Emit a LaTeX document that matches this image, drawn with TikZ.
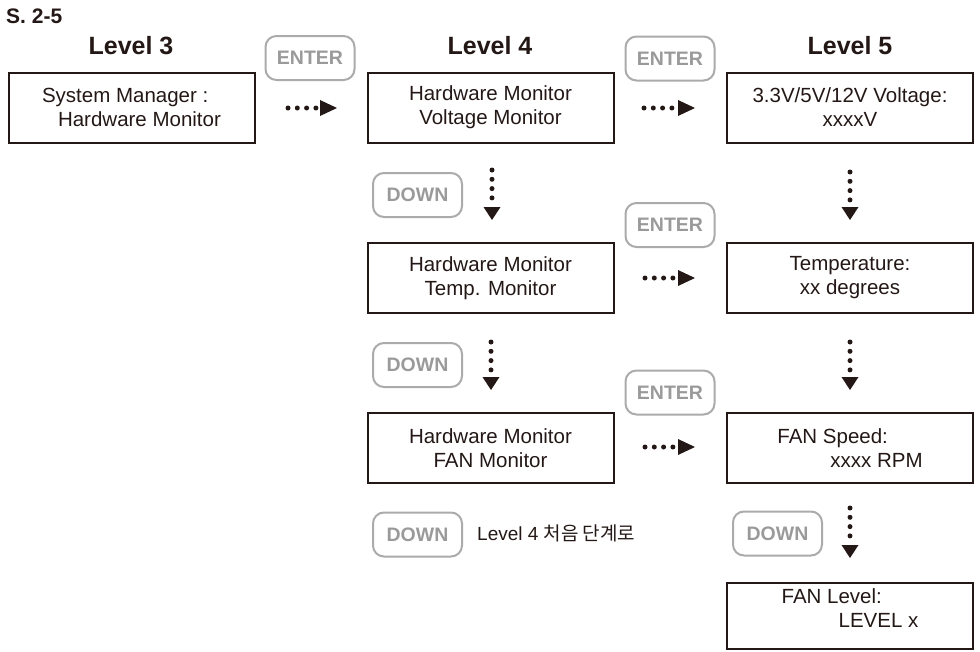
\documentclass[tikz,border=0pt]{standalone}
\usepackage{fontspec}
\setmainfont{Liberation Sans}
\newfontfamily\krfont{Noto Sans CJK KR}
\usetikzlibrary{arrows.meta}
\definecolor{ink}{HTML}{231815}
\definecolor{btnline}{HTML}{ABABAB}
\definecolor{btntext}{HTML}{9A9A9A}
\begin{document}
\begin{tikzpicture}[x=1pt,y=-1pt,
  box/.style={draw=ink, line width=2pt, minimum width=246pt, minimum height=70pt, inner sep=0pt, text=ink, font=\fontsize{20.5}{24}\selectfont, align=center},
  btn/.style={draw=btnline, line width=2pt, rounded corners=11pt, minimum width=89pt, minimum height=44pt, inner sep=0pt, text=btntext, font=\fontsize{19.5}{22}\selectfont\bfseries},
  head/.style={text=ink, font=\fontsize{25}{28}\selectfont\bfseries},
  txt/.style={text=ink, font=\fontsize{20.5}{24}\selectfont, inner sep=0pt},
  hdot/.style={draw=ink, line width=5pt, line cap=round, dash pattern=on 0pt off 9.3pt, -{Triangle[length=17pt,width=16pt,line width=0pt]}},
  vdot/.style={draw=ink, line width=5pt, line cap=round, dash pattern=on 0pt off 9.3pt, -{Triangle[length=13pt,width=17pt,line width=0pt]}}]
\useasboundingbox (0,0) rectangle (980,651);
% titles
\node[anchor=west, text=ink, font=\fontsize{21}{24}\selectfont\bfseries, inner sep=0pt] (title) at (6,16) {S. 2-5};
\node[head] (lv3) at (131,46) {Level 3};
\node[head] (lv4) at (490,46) {Level 4};
\node[head] (lv5) at (850,46) {Level 5};
% boxes
\node[box, align=left] (b3) at (131.5,107.5) {System Manager :\\\hspace*{16pt}Hardware Monitor};
\node[box] (b41) at (490.5,107.5) {Hardware Monitor\\Voltage Monitor};
\node[box] (b51) at (850,107.5) {3.3V/5V/12V Voltage:\\xxxxV};
\node[box] (b42) at (490.5,278) {Hardware Monitor\\Temp. Monitor};
\node[box] (b52) at (850,278) {Temperature:\\xx degrees};
\node[box] (b43) at (490.5,448) {Hardware Monitor\\FAN Monitor};
\node[box, align=left] (b53) at (850,448) {FAN Speed:\\\hspace*{53pt}xxxx RPM};
\node[box, minimum height=66pt] (b54) at (850,616) {};
\node[txt, align=left] (t54) at (850,608.5) {FAN Level:\\\hspace*{57pt}LEVEL x};
% buttons
\node[btn] (e1) at (310,58) {ENTER};
\node[btn] (e2) at (670,58.5) {ENTER};
\node[btn] (d1) at (417.5,195) {DOWN};
\node[btn] (e3) at (670,225) {ENTER};
\node[btn] (d2) at (417.5,365) {DOWN};
\node[btn] (e4) at (670,392.5) {ENTER};
\node[btn] (d3) at (417.5,534.5) {DOWN};
\node[btn] (d4) at (777.5,533.5) {DOWN};
\node[anchor=west, text=ink, font=\fontsize{19}{22}\selectfont, inner sep=0pt] (note) at (477,533) {Level 4 {\krfont 처음 단계로}};
% arrows
\coordinate (h1s) at (288,108); \coordinate (h1e) at (337,108);
\coordinate (h2s) at (644,108); \coordinate (h2e) at (695,108);
\coordinate (h3s) at (645,278); \coordinate (h3e) at (695,278);
\coordinate (h4s) at (645,447); \coordinate (h4e) at (695,447);
\coordinate (v1s) at (492,170); \coordinate (v1e) at (492,220);
\coordinate (v2s) at (491,342); \coordinate (v2e) at (491,390);
\coordinate (v3s) at (850,172); \coordinate (v3e) at (850,220);
\coordinate (v4s) at (850,342); \coordinate (v4e) at (850,390);
\coordinate (v5s) at (850,508); \coordinate (v5e) at (850,558);
\draw[hdot] (h1s) -- (h1e);
\draw[hdot] (h2s) -- (h2e);
\draw[hdot] (h3s) -- (h3e);
\draw[hdot] (h4s) -- (h4e);
\draw[vdot] (v1s) -- (v1e);
\draw[vdot] (v2s) -- (v2e);
\draw[vdot] (v3s) -- (v3e);
\draw[vdot] (v4s) -- (v4e);
\draw[vdot] (v5s) -- (v5e);
\end{tikzpicture}
\end{document}
